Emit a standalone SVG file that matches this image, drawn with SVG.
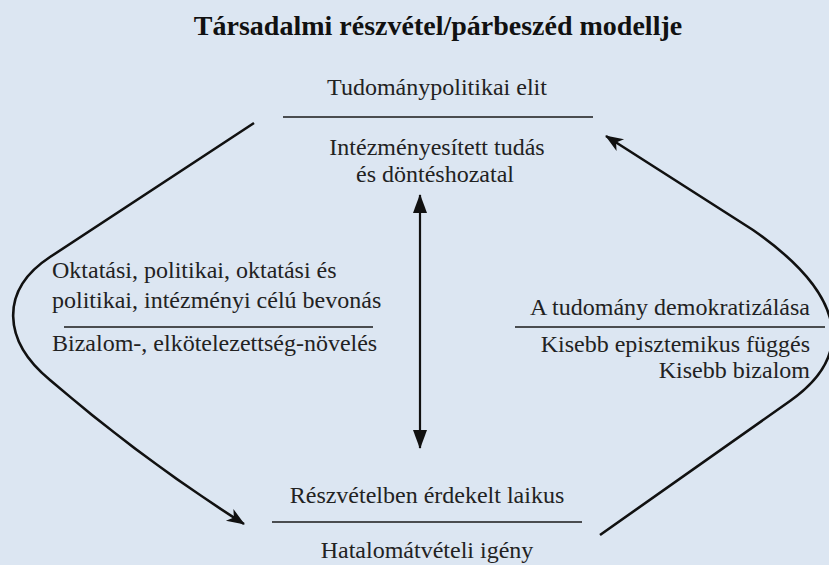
<svg xmlns="http://www.w3.org/2000/svg" width="829" height="565" viewBox="0 0 829 565">
  <defs>
    <style>
      .bg { fill: #dce6f2; }
      .title { font-family: "Liberation Serif", "Times New Roman", serif; font-size: 28px; font-weight: bold; fill: #111; }
      .lbl { font-family: "Liberation Serif", "Times New Roman", serif; font-size: 24px; fill: #222; }
      .mid { text-anchor: middle; }
      .end { text-anchor: end; }
      .rule { stroke: #1a1a1a; stroke-width: 1.6; fill: none; }
      .flow { stroke: #111; stroke-width: 2.6; fill: none; }
      .axis { stroke: #111; stroke-width: 2.2; fill: none; }
    </style>
    <!-- barbed head for the curved feedback arrows -->
    <marker id="barb" markerUnits="userSpaceOnUse" markerWidth="20" markerHeight="16" viewBox="0 0 20 16" refX="17" refY="8" orient="auto">
      <path d="M0,1 L18,8 L0,15 L5,8 z" fill="#111"/>
    </marker>
    <!-- solid triangle head for the vertical two-way arrow -->
    <marker id="tri" markerUnits="userSpaceOnUse" markerWidth="20" markerHeight="16" viewBox="0 0 20 16" refX="18" refY="8" orient="auto-start-reverse">
      <path d="M0,1 L19,8 L0,15 z" fill="#111"/>
    </marker>
  </defs>

  <rect class="bg" x="0" y="0" width="829" height="565"/>

  <text class="title mid" x="438" y="35">Társadalmi részvétel/párbeszéd modellje</text>

  <g id="elite">
    <text class="lbl mid" x="437" y="95">Tudománypolitikai elit</text>
    <line class="rule" x1="283" y1="117" x2="593" y2="117"/>
    <text class="lbl mid" x="437" y="155">Intézményesített tudás</text>
    <text class="lbl mid" x="435" y="182">és döntéshozatal</text>
  </g>

  <g id="engagement">
    <text class="lbl" x="52" y="278">Oktatási, politikai, oktatási és</text>
    <text class="lbl" x="52" y="308">politikai, intézményi célú bevonás</text>
    <line class="rule" x1="64" y1="327" x2="373" y2="327"/>
    <text class="lbl" x="52" y="351">Bizalom-, elkötelezettség-növelés</text>
  </g>

  <g id="democratization">
    <text class="lbl end" x="810" y="315">A tudomány demokratizálása</text>
    <line class="rule" x1="515" y1="327" x2="825" y2="327"/>
    <text class="lbl end" x="810" y="352">Kisebb episztemikus függés</text>
    <text class="lbl end" x="810" y="378">Kisebb bizalom</text>
  </g>

  <g id="laity">
    <text class="lbl mid" x="427" y="503">Részvételben érdekelt laikus</text>
    <line class="rule" x1="272" y1="522" x2="582" y2="522"/>
    <text class="lbl mid" x="427" y="558">Hatalomátvételi igény</text>
  </g>

  <g id="connectors">
    <!-- elite down to laity, around the left side -->
    <path class="flow" d="M254,123 L50,257 C-1,290.5 2.8,341.4 50,380 Q143,460 244,524" marker-end="url(#barb)"/>
    <!-- laity back up to elite, around the right side -->
    <path class="flow" d="M600,535 L790,401 C863.5,349.2 835,287 753,230 L606,136" marker-end="url(#barb)"/>
    <!-- two-way link between elite and laity -->
    <line class="axis" x1="420" y1="195" x2="420" y2="448" marker-start="url(#tri)" marker-end="url(#tri)"/>
  </g>
</svg>
